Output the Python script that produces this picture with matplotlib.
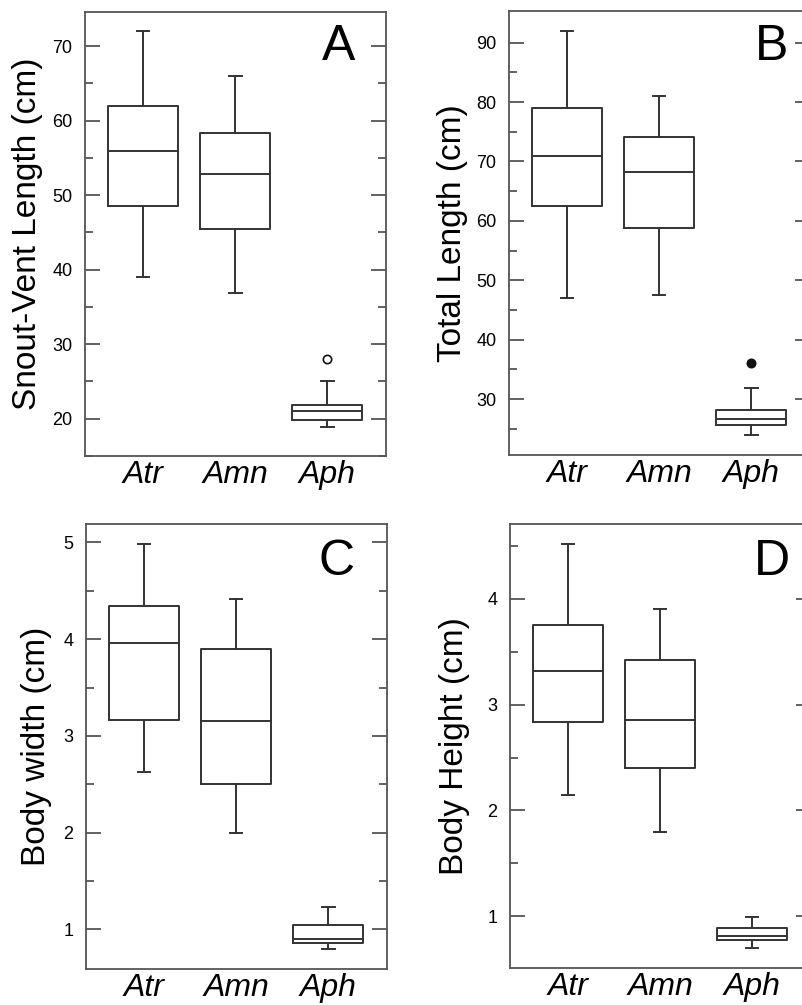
import numpy as np
import matplotlib.pyplot as plt

plt.rcParams['font.family'] = ['Liberation Sans', 'DejaVu Sans']

groups = ['Atr', 'Amn', 'Aph']

# per group: lower whisker, q1, median, q3, upper whisker
svl_five = [[39.0, 48.5, 56.0, 62.0, 72.0],
            [36.9, 45.4, 52.9, 58.3, 66.0],
            [18.9, 19.8, 21.0, 21.9, 25.1]]
svl_out = [[], [], [28.0]]

tl_five = [[47.0, 62.5, 71.0, 79.0, 92.0],
           [47.6, 58.8, 68.2, 74.1, 81.0],
           [24.0, 25.6, 26.6, 28.1, 31.9]]
tl_out = [[], [], [36.0]]

bw_five = [[2.63, 3.16, 3.96, 4.34, 4.98],
           [2.00, 2.50, 3.15, 3.90, 4.41],
           [0.80, 0.86, 0.90, 1.04, 1.23]]
bw_out = [[], [], []]

bh_five = [[2.15, 2.84, 3.32, 3.75, 4.52],
           [1.80, 2.40, 2.85, 3.42, 3.90],
           [0.70, 0.775, 0.81, 0.89, 0.99]]
bh_out = [[], [], []]

line_c = '#333333'
spine_c = '#555555'


def make_stats(five, out):
    st = []
    for f, o in zip(five, out):
        st.append(dict(whislo=f[0], q1=f[1], med=f[2], q3=f[3], whishi=f[4], fliers=o))
    return st


fig = plt.figure(figsize=(8.03, 10.05), dpi=100)

panels = [
    # rect, five, out, ylabel, ylim, major, minor, letter, letter pos, label x, filled outlier
    ([0.1059, 0.5463, 0.3748, 0.4418], svl_five, svl_out, 'Snout-Vent Length (cm)',
     (16.2, 74.6), np.arange(20, 71, 10), np.arange(15, 75, 5), 'A', (0.897, 0.892), -0.14, False),
    ([0.6339, 0.5473, 0.3748, 0.4413], tl_five, tl_out, 'Total Length (cm)',
     (20.6, 95.25), np.arange(30, 91, 10), np.arange(25, 95, 5), 'B', (0.927, 0.891), -0.136, True),
    ([0.1071, 0.0358, 0.3748, 0.4428], bw_five, bw_out, 'Body width (cm)',
     (0.59, 5.19), np.arange(1, 6, 1), np.arange(1, 5.1, 0.5), 'C', (0.894, 0.885), -0.113, False),
    ([0.6351, 0.0371, 0.3748, 0.4415], bh_five, bh_out, 'Body Height (cm)',
     (0.515, 4.705), np.arange(1, 5, 1), np.arange(1, 4.6, 0.5), 'D', (0.930, 0.885), -0.133, False),
]

for rect, five, out, ylabel, ylim, major, minor, letter, lpos, labx, filled in panels:
    ax = fig.add_axes(rect)
    lp = dict(color=line_c, linewidth=1.4)
    fp = dict(marker='o', markersize=6, markeredgecolor='#111111', markeredgewidth=1.2,
              markerfacecolor='#111111' if filled else 'none', linestyle='none')
    ax.bxp(make_stats(five, out), positions=[1, 2, 3], widths=0.76, capwidths=0.14,
           boxprops=lp, whiskerprops=lp, capprops=lp, medianprops=lp, flierprops=fp,
           manage_ticks=False)
    ax.set_xlim(0.37, 3.64)
    ax.set_ylim(*ylim)
    ax.set_yticks(major)
    ax.set_yticklabels([str(int(v)) for v in major])
    ax.set_yticks(minor, minor=True)
    ax.set_xticks([1, 2, 3])
    ax.set_xticklabels(groups, style='italic', fontsize=23)
    ax.tick_params(axis='x', length=0, pad=3)
    ax.tick_params(axis='y', which='both', direction='in', left=True, right=True,
                   color=spine_c, width=1.3, labelsize=13, pad=9)
    ax.tick_params(axis='y', which='major', length=11)
    ax.tick_params(axis='y', which='minor', length=5.5)
    for s in ax.spines.values():
        s.set_color(spine_c)
        s.set_linewidth(1.3)
    ax.set_ylabel(ylabel, fontsize=24)
    ax.yaxis.set_label_coords(labx, 0.5)
    ax.text(lpos[0], lpos[1], letter, transform=ax.transAxes, ha='right', va='baseline',
            fontsize=36)

fig.savefig('out.png', dpi=100)
